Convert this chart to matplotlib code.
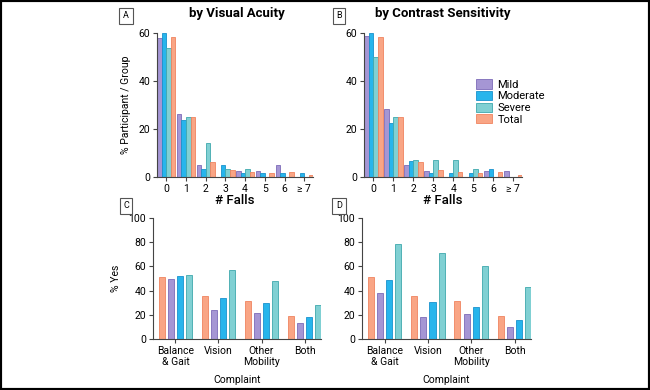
import numpy as np
import matplotlib
matplotlib.use("Agg")
import matplotlib.pyplot as plt
from matplotlib.patches import Rectangle

plt.rcParams['font.family'] = ['Roboto', 'DejaVu Sans']

# data
falls = ['0', '1', '2', '3', '4', '5', '6', '≥ 7']
groups = ['Mild', 'Moderate', 'Severe', 'Total']

va_mild = [58, 26.2, 5.2, 0, 2.5, 2.5, 5.2, 0]
va_moderate = [60, 23.7, 3.2, 4.9, 1.7, 1.7, 1.7, 1.7]
va_severe = [53.7, 24.8, 14.2, 3.5, 3.5, 0, 0, 0]
va_total = [58.3, 24.8, 6.3, 3.1, 2.2, 1.7, 2.2, 0.8]

cs_mild = [58.9, 28.2, 5.0, 2.5, 0, 0, 2.5, 2.5]
cs_moderate = [60, 22.3, 6.7, 1.7, 1.7, 1.7, 3.2, 0]
cs_severe = [50, 25.1, 7.0, 7.0, 7.0, 3.5, 0, 0]
cs_total = [58.3, 24.8, 6.1, 3.1, 2.2, 1.5, 2.2, 0.8]

complaints = ['Balance\n& Gait', 'Vision', 'Other\nMobility', 'Both']
va_yes_total = [51.6, 35.7, 31.3, 19.0]
va_yes_mild = [49.7, 23.6, 21.2, 13.2]
va_yes_moderate = [52.2, 33.8, 29.7, 18.4]
va_yes_severe = [53.3, 56.9, 47.8, 27.7]

cs_yes_total = [51.6, 35.7, 31.3, 19.2]
cs_yes_mild = [37.9, 17.9, 20.3, 9.9]
cs_yes_moderate = [48.4, 30.8, 26.1, 15.4]
cs_yes_severe = [78.6, 71.4, 60.7, 43.1]

fill = {'Mild': '#a596d4', 'Moderate': '#27b5ec', 'Severe': '#80d0d3', 'Total': '#f9a585'}
edge = {'Mild': '#7d6bb8', 'Moderate': '#1a92cd', 'Severe': '#3fa8ad', 'Total': '#f0845f'}

W, H = 650, 390
fig = plt.figure(figsize=(6.5, 3.9), dpi=100)


def box(l, t, r, b):
    return [l / W, 1 - b / H, (r - l) / W, (b - t) / H]


def style(ax):
    for s in ['top', 'right']:
        ax.spines[s].set_visible(False)
    for s in ['left', 'bottom']:
        ax.spines[s].set_color('#444444')
        ax.spines[s].set_linewidth(0.8)
    ax.tick_params(labelsize=7.5, length=3, width=0.8, color='#444444', pad=2)


def falls_panel(ax, series):
    x = np.arange(len(falls))
    w = 0.23
    for i, (g, vals) in enumerate(zip(groups, series)):
        ax.bar(x + (i - 1.5) * w, vals, w, color=fill[g], edgecolor=edge[g],
               linewidth=0.6, label=g)
    ax.set_xlim(-0.47, 7.44)
    ax.set_ylim(0, 60)
    ax.set_yticks([0, 20, 40, 60])
    ax.set_xticks(x)
    ax.set_xticklabels(falls)
    ax.set_xlabel('# Falls', fontsize=9.5, fontweight='medium', labelpad=0)
    style(ax)


def yes_panel(ax, series):
    x = np.arange(len(complaints))
    order = ['Total', 'Mild', 'Moderate', 'Severe']
    for i, (g, vals) in enumerate(zip(order, series)):
        ax.bar(x + (i - 1.5) * 0.214, vals, 0.14, color=fill[g], edgecolor=edge[g],
               linewidth=0.6)
    ax.set_xlim(-0.52, 3.38)
    ax.set_ylim(0, 100)
    ax.set_yticks(range(0, 101, 20))
    ax.set_xticks(x)
    ax.set_xticklabels(complaints, linespacing=1.1)
    ax.set_xlabel('Complaint', fontsize=7.5, labelpad=6)
    style(ax)


axA = fig.add_axes(box(157, 33, 313, 177))
falls_panel(axA, [va_mild, va_moderate, va_severe, va_total])
axA.set_ylabel('% Participant / Group', fontsize=7.5, labelpad=5)

axB = fig.add_axes(box(364, 33, 522, 177))
falls_panel(axB, [cs_mild, cs_moderate, cs_severe, cs_total])
axB.legend(loc='upper left', bbox_to_anchor=((472 - 364) / 158, (177 - 75) / 144),
           frameon=False, fontsize=8, handlelength=1.4, handleheight=0.9,
           handletextpad=0.5, labelspacing=0.1, borderaxespad=0)

axC = fig.add_axes(box(153, 218, 321, 339))
yes_panel(axC, [va_yes_total, va_yes_mild, va_yes_moderate, va_yes_severe])
axC.set_ylabel('% Yes', fontsize=7.5, labelpad=5)

axD = fig.add_axes(box(362, 218, 531, 339))
yes_panel(axD, [cs_yes_total, cs_yes_mild, cs_yes_moderate, cs_yes_severe])

# titles and panel letters
fig.text(237 / W, 1 - 13 / H, 'by Visual Acuity', ha='center', va='center',
         fontsize=9.5, fontweight='bold')
fig.text(443 / W, 1 - 13 / H, 'by Contrast Sensitivity', ha='center', va='center',
         fontsize=9.5, fontweight='bold')
for letter, (px, py) in zip('ABCD', [(126, 16), (339, 16), (126, 206), (339, 206)]):
    fig.text(px / W, 1 - py / H, letter, ha='center', va='center', fontsize=6.5,
             bbox=dict(boxstyle='square,pad=0.4', facecolor='white',
                       edgecolor='#555555', linewidth=0.8))

# black frame around the whole picture
fig.patches.append(Rectangle((0, 0), 1, 1, transform=fig.transFigure, fill=False,
                             edgecolor='black', linewidth=3))

fig.savefig('out.png', dpi=100)
